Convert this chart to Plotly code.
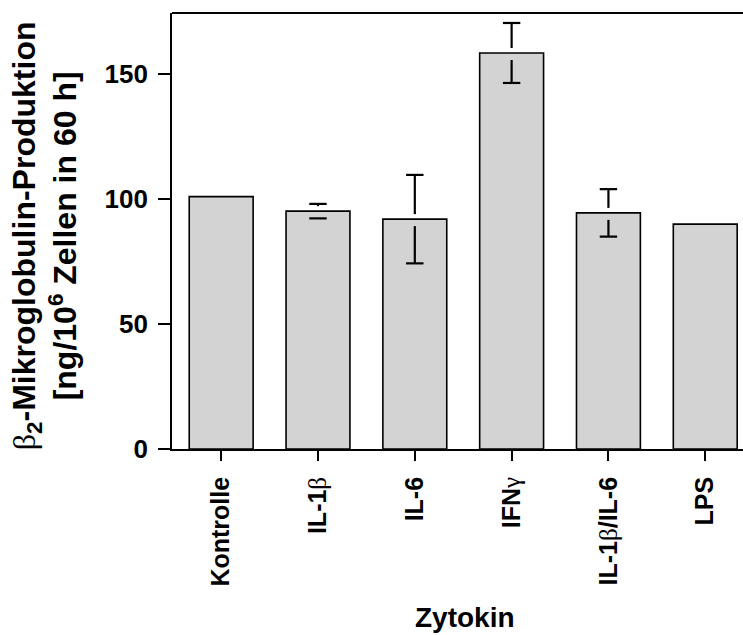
import plotly.graph_objects as go

# ---- data ----
categories = ["Kontrolle", "IL-1β", "IL-6", "IFNγ", "IL-1β/IL-6", "LPS"]
values = [101.0, 95.2, 92.0, 158.5, 94.5, 90.0]
errors = [0.0, 2.9, 17.7, 12.0, 9.5, 0.0]
y_ticks = [0, 50, 100, 150]

GREEK = "<span style=\"font-family:'Liberation Serif';font-weight:normal\">{}</span>"
tick_labels = [
    "Kontrolle",
    "IL-1" + GREEK.format("β"),
    "IL-6",
    "IFN" + GREEK.format("γ"),
    "IL-1" + GREEK.format("β") + "/IL-6",
    "LPS",
]

# ---- style ----
FONT = "Liberation Sans"
GAP_UP, GAP_DN = 2.0, 2.8   # white gap of error bars around bar tops (data units)
CAP = 0.09                   # half cap width (category units)

xpos = list(range(len(categories)))

fig = go.Figure()
fig.add_trace(go.Bar(
    x=xpos, y=values, width=0.66,
    marker=dict(color="#d3d3d3", line=dict(color="black", width=1.6)),
    showlegend=False, hoverinfo="skip",
))

sx, sy = [], []
for i, (v, e) in enumerate(zip(values, errors)):
    if e <= 0:
        continue
    if e > GAP_UP:
        sx += [i, i, None]; sy += [v + GAP_UP, v + e, None]
    if e > GAP_DN:
        sx += [i, i, None]; sy += [v - GAP_DN, v - e, None]
    sx += [i - CAP, i + CAP, None]; sy += [v + e, v + e, None]
    sx += [i - CAP, i + CAP, None]; sy += [v - e, v - e, None]

fig.add_trace(go.Scatter(
    x=sx, y=sy, mode="lines", line=dict(color="black", width=2.2),
    showlegend=False, hoverinfo="skip", cliponaxis=False,
))

fig.update_layout(
    width=743, height=635,
    margin=dict(l=172, r=0, t=13, b=186),
    plot_bgcolor="white", paper_bgcolor="white",
    bargap=0.34,
    xaxis=dict(
        range=[-0.508, 5.39], tickmode="array", tickvals=xpos, ticktext=tick_labels,
        tickangle=-90, ticks="outside", ticklen=10, tickwidth=1.6, tickcolor="black",
        showline=True, linecolor="black", linewidth=1.8, showgrid=False, zeroline=False,
        tickfont=dict(family=FONT, size=25, color="black", weight="bold"),
        ticklabelstandoff=6,
    ),
    yaxis=dict(
        range=[0, 174.5], tickmode="array", tickvals=y_ticks,
        ticks="outside", ticklen=12, tickwidth=1.6, tickcolor="black",
        showline=True, linecolor="black", linewidth=1.8, showgrid=False, zeroline=False,
        tickfont=dict(family=FONT, size=26, color="black", weight="bold"),
        ticklabelstandoff=5,
    ),
    shapes=[dict(type="line", xref="paper", yref="paper", x0=0, x1=1, y0=1, y1=1,
                 line=dict(color="black", width=1.8))],
    annotations=[
        dict(text="Zytokin", xref="paper", yref="paper",
             x=(465 - 172) / 571, y=-(618 - 449) / 436.4, xanchor="center", yanchor="middle",
             showarrow=False, font=dict(family=FONT, size=28, color="black", weight="bold")),
        dict(text=GREEK.format("β") + "<sub>2</sub>-Mikroglobulin-Produktion<br>"
                  "[ng/10<sup>6</sup> Zellen in 60 h]",
             xref="paper", yref="paper", x=(45 - 172) / 571, y=(449 - 236) / 436.4,
             xanchor="center", yanchor="middle", textangle=-90, showarrow=False,
             font=dict(family=FONT, size=32, color="black", weight="bold")),
    ],
)

fig.write_html("out.html")
